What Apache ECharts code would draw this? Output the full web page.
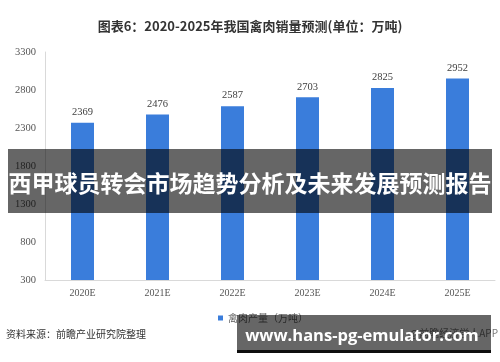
<!DOCTYPE html>
<html>
<head>
<meta charset="utf-8">
<script src="https://cdn.jsdelivr.net/npm/echarts@6/dist/echarts.min.js"></script>
<style>html,body{margin:0;padding:0;background:#fff;}#c{width:500px;height:362px;}</style>
</head>
<body>
<div id="c"></div>
<script>
const categories = ['2020E', '2021E', '2022E', '2023E', '2024E', '2025E'];
const values = [2369, 2476, 2587, 2703, 2825, 2952];
const seriesName = '禽肉产量（万吨）';
const titleText = '图表6：2020-2025年我国禽肉销量预测(单位：万吨)';
const sourceText = '资料来源：前瞻产业研究院整理';
const bannerText = '西甲球员转会市场趋势分析及未来发展预测报告';
const urlText = 'www.hans-pg-emulator.com';
const appText = '@前瞻经济学人APP';

const chart = echarts.init(document.getElementById('c'), null, {renderer: 'canvas'});
const serif = '"Liberation Serif", "DejaVu Serif", serif';
const cjk = '"Noto Sans CJK SC", "Noto Sans", sans-serif';
chart.setOption({
  animation: false,
  backgroundColor: '#fff',
  title: {
    text: titleText,
    left: 'center',
    top: 15,
    textStyle: {fontSize: 13, fontWeight: 'bold', color: '#333', fontFamily: cjk}
  },
  legend: {
    data: [seriesName],
    left: 213,
    top: 308,
    icon: 'rect',
    itemWidth: 5,
    itemHeight: 5,
    itemGap: 4,
    textStyle: {fontSize: 10, color: '#666', fontFamily: cjk}
  },
  grid: {left: 45, right: 5, top: 52, bottom: 82},
  xAxis: {
    type: 'category',
    data: categories,
    axisLine: {lineStyle: {color: '#d9d9d9'}},
    axisTick: {show: false},
    axisLabel: {fontSize: 10, color: '#555', fontFamily: serif, margin: 8}
  },
  yAxis: {
    type: 'value',
    min: 300,
    max: 3300,
    interval: 500,
    axisLine: {show: true, lineStyle: {color: '#d9d9d9'}},
    axisTick: {show: false},
    splitLine: {show: false},
    axisLabel: {fontSize: 10.5, color: '#555', fontFamily: serif, margin: 9, formatter: v => String(v)}
  },
  series: [{
    name: seriesName,
    type: 'bar',
    data: values,
    barWidth: 23,
    itemStyle: {color: '#3a7ddb'},
    label: {show: true, position: 'top', distance: 5, fontSize: 10.5, color: '#404040', fontFamily: serif}
  }],
  graphic: [
    {type: 'text', z: 100, left: 6, top: 329, style: {text: sourceText, fill: '#333', font: '10px ' + cjk}},
    {type: 'text', z: 100, right: 2, top: 328, style: {text: appText, fill: '#777', font: '10px ' + cjk}},
    {type: 'rect', z: 100, shape: {x: 8, y: 149, width: 484, height: 64}, style: {fill: 'rgba(0,0,0,0.6)'}},
    {type: 'text', z: 101, x: 250, y: 183, style: {text: bannerText, fill: '#fff', font: 'bold 23px ' + cjk, align: 'center', verticalAlign: 'middle'}},
    {type: 'rect', z: 100, shape: {x: 237, y: 315, width: 254, height: 38}, style: {fill: 'rgba(0,0,0,0.6)'}},
    {type: 'rect', z: 100, shape: {x: 237, y: 350, width: 254, height: 3}, style: {fill: 'rgba(0,0,0,0.85)'}},
    {type: 'text', z: 101, x: 362, y: 336, style: {text: urlText, fill: '#fff', font: 'bold 16.5px "Open Sans", sans-serif', align: 'center', verticalAlign: 'middle'}}
  ]
});
</script>
</body>
</html>
